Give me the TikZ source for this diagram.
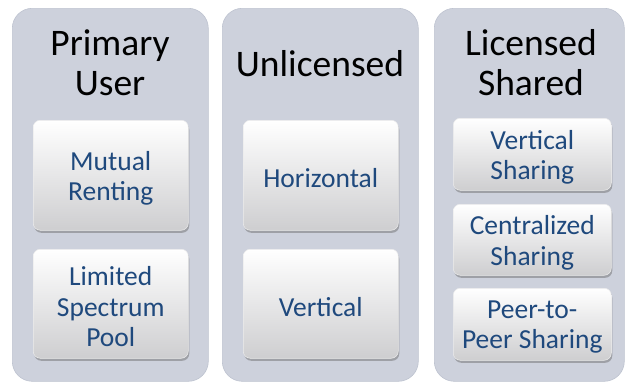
\documentclass[tikz,border=0pt]{standalone}
\usepackage{fontspec}
\setmainfont{Carlito}
\usetikzlibrary{shadows}
\definecolor{panelfill}{RGB}{205,209,220}
\definecolor{panelline}{RGB}{190,195,208}
\definecolor{itemtext}{RGB}{31,73,125}
\definecolor{itembottom}{RGB}{206,206,208}
\tikzset{
  panel/.style={rounded corners=20pt, fill=panelfill, draw=panelline, line width=0.6pt,
    inner sep=0pt, anchor=north west},
  paneltitle/.style={font=\fontsize{37.5}{40}\selectfont, text=black, align=center, inner sep=0pt},
  item/.style={rounded corners=7pt, top color=white, middle color=white!96!gray, bottom color=itembottom,
    draw=white!85!gray, line width=0.5pt,
    drop shadow={shadow xshift=1pt, shadow yshift=-2.5pt, opacity=0.45, fill=black!60},
    inner sep=0pt, anchor=north west},
  itemlabel/.style={font=\fontsize{27.5}{30.5}\selectfont, text=itemtext, align=center,
    inner sep=0pt, yshift=-3pt}
}
\begin{document}
\begin{tikzpicture}[x=1pt, y=-1pt]
  \useasboundingbox (0,0) rectangle (627,386);
  \fill[white] (0,0) rectangle (627,386);

  % three columns
  \node[panel, minimum width=196pt, minimum height=373pt] (p1) at (12,8) {};
  \node[panel, minimum width=196pt, minimum height=373pt] (p2) at (222,8) {};
  \node[panel, minimum width=190pt, minimum height=373pt] (p3) at (434,8) {};

  % column headings
  \node[paneltitle] (t1) at (110,63) {Primary\\User};
  \node[paneltitle] (t2) at (320,64) {Unlicensed};
  \node[paneltitle] (t3) at (531,63) {Licensed\\Shared};

  % primary user
  \node[item, minimum width=155pt, minimum height=110pt] (a1) at (33,120) {};
  \node[itemlabel] (a1t) at (a1.center) {Mutual\\Renting};
  \node[item, minimum width=155pt, minimum height=109pt] (a2) at (33,249) {};
  \node[itemlabel] (a2t) at (a2.center) {Limited\\Spectrum\\Pool};

  % unlicensed
  \node[item, minimum width=155pt, minimum height=110pt] (b1) at (243,120) {};
  \node[itemlabel] (b1t) at (b1.center) {Horizontal};
  \node[item, minimum width=155pt, minimum height=109pt] (b2) at (243,249) {};
  \node[itemlabel] (b2t) at (b2.center) {Vertical};

  % licensed shared
  \node[item, minimum width=158pt, minimum height=72pt] (c1) at (453,118) {};
  \node[itemlabel] (c1t) at (c1.center) {Vertical\\Sharing};
  \node[item, minimum width=158pt, minimum height=71pt] (c2) at (453,204) {};
  \node[itemlabel] (c2t) at (c2.center) {Centralized\\Sharing};
  \node[item, minimum width=158pt, minimum height=72pt] (c3) at (453,288) {};
  \node[itemlabel] (c3t) at (c3.center) {Peer-to-\\Peer Sharing};
\end{tikzpicture}
\end{document}
